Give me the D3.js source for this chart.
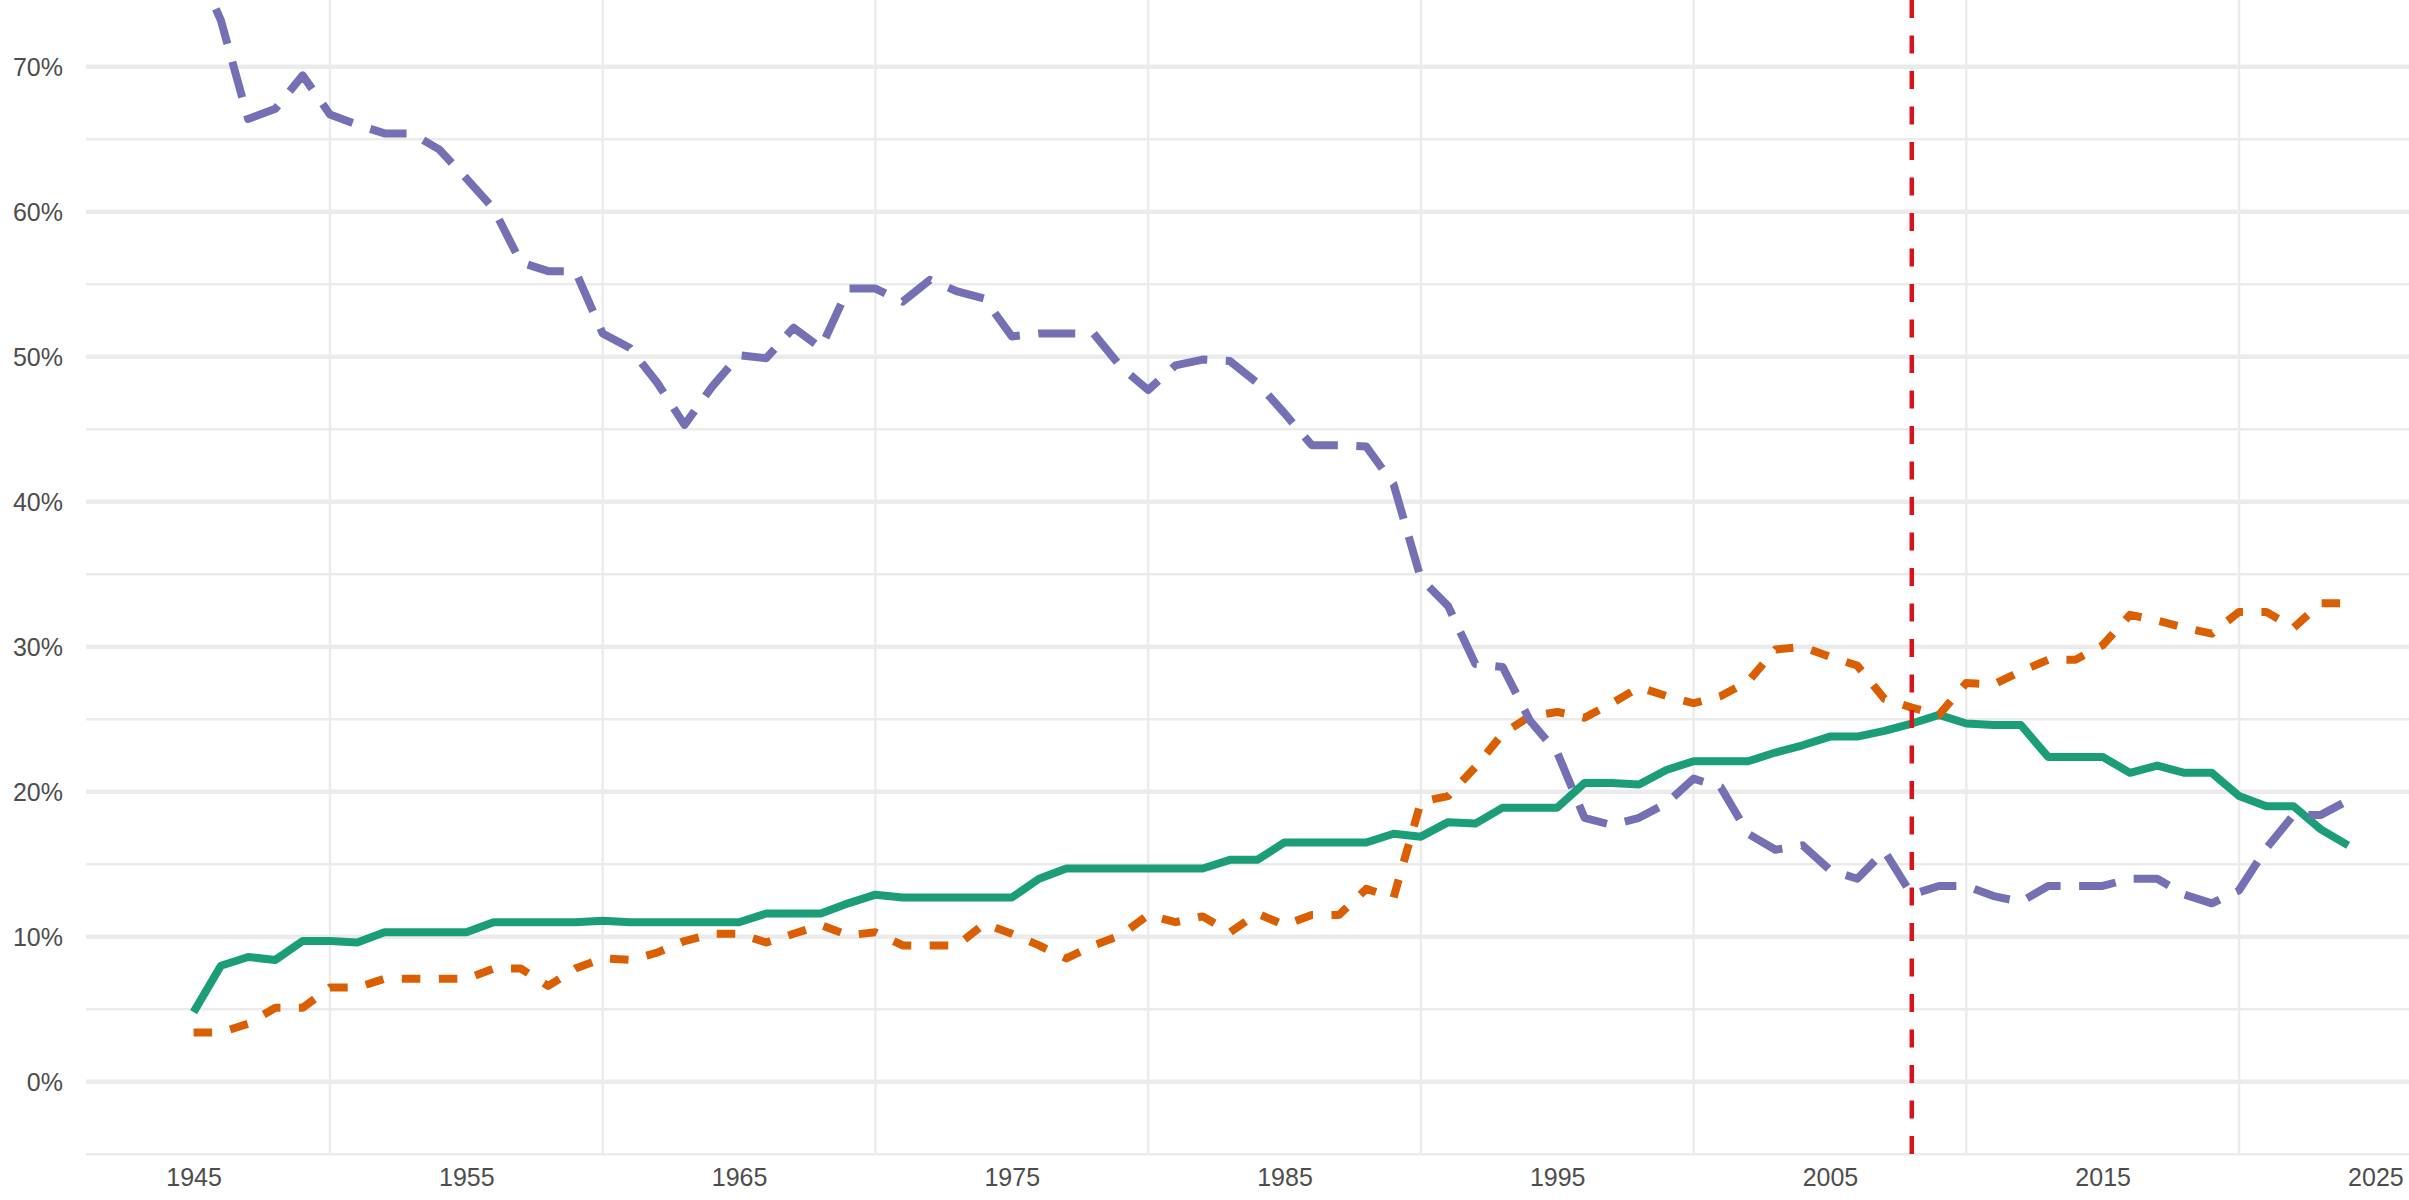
<!DOCTYPE html>
<html>
<head>
<meta charset="utf-8">
<script src="https://cdn.jsdelivr.net/npm/d3@7/dist/d3.min.js"></script>
<style>
  html, body { margin: 0; padding: 0; background: #ffffff; }
  svg { display: block; }
</style>
</head>
<body>
<svg id="chart" width="2409" height="1200"></svg>
<script>
// ---- data ----
const years = d3.range(1945, 2025); // 1945..2024

const seriesGreen = [
  4.8, 8.0, 8.6, 8.4, 9.7, 9.7, 9.6, 10.3, 10.3, 10.3,
  10.3, 11.0, 11.0, 11.0, 11.0, 11.1, 11.0, 11.0, 11.0, 11.0,
  11.0, 11.6, 11.6, 11.6, 12.3, 12.9, 12.7, 12.7, 12.7, 12.7,
  12.7, 14.0, 14.7, 14.7, 14.7, 14.7, 14.7, 14.7, 15.3, 15.3,
  16.5, 16.5, 16.5, 16.5, 17.1, 16.9, 17.9, 17.8, 18.9, 18.9,
  18.9, 20.6, 20.6, 20.5, 21.5, 22.1, 22.1, 22.1, 22.7, 23.2,
  23.8, 23.8, 24.2, 24.7, 25.3, 24.7, 24.6, 24.6, 22.4, 22.4,
  22.4, 21.3, 21.8, 21.3, 21.3, 19.7, 19.0, 19.0, 17.4, 16.3
];

const seriesOrange = [
  3.4, 3.4, 4.0, 5.1, 5.1, 6.5, 6.5, 7.1, 7.1, 7.1,
  7.1, 7.8, 7.8, 6.6, 7.8, 8.5, 8.4, 8.9, 9.7, 10.2,
  10.2, 9.6, 10.2, 10.8, 10.1, 10.3, 9.4, 9.4, 9.4, 10.9,
  10.2, 9.4, 8.5, 9.4, 10.1, 11.5, 11.0, 11.4, 10.3, 11.6,
  10.8, 11.5, 11.5, 13.3, 12.7, 19.3, 19.7, 21.7, 24.0, 25.2,
  25.5, 25.1, 26.1, 27.2, 26.6, 26.1, 26.6, 27.6, 29.8, 30.0,
  29.3, 28.7, 26.4, 25.8, 25.3, 27.5, 27.4, 28.3, 29.1, 29.1,
  30.1, 32.2, 31.8, 31.3, 30.9, 32.4, 32.4, 31.3, 33.0, 33.0
];

const seriesPurple = [
  77.5, 73.2, 66.4, 67.1, 69.4, 66.7, 66.0, 65.4, 65.4, 64.3,
  62.3, 60.2, 56.5, 55.9, 55.9, 51.6, 50.6, 48.2, 45.3, 47.9,
  50.1, 49.9, 52.0, 50.6, 54.7, 54.7, 53.8, 55.3, 54.5, 54.0,
  51.4, 51.6, 51.6, 51.6, 49.3, 47.7, 49.4, 49.8, 49.7, 48.2,
  46.1, 43.9, 43.9, 43.8, 41.2, 34.7, 32.8, 28.8, 28.6, 24.9,
  22.7, 18.2, 17.7, 18.2, 19.2, 20.9, 20.3, 17.1, 16.0, 16.3,
  14.6, 14.0, 15.9, 12.9, 13.5, 13.5, 12.8, 12.4, 13.5, 13.5,
  13.5, 14.0, 14.0, 12.9, 12.3, 13.2, 16.1, 18.4, 18.4, 19.4
];

const markerYear = 2008;
const xTickLabels = [1945, 1955, 1965, 1975, 1985, 1995, 2005, 2015, 2025];
const xMinorGrid = [1950, 1960, 1970, 1980, 1990, 2000, 2010, 2020];
const yMajorTicks = [0, 10, 20, 30, 40, 50, 60, 70];
const yMinorGrid = [-5, 5, 15, 25, 35, 45, 55, 65];

// ---- layout ----
const W = 2409, H = 1200;
const panel = { left: 86, right: W, top: 0, bottom: 1154 };

const x = d3.scaleLinear().domain([1945, 2025]).range([193.6, 2375.4]);
const y = d3.scaleLinear().domain([0, 70]).range([1081.7, 66.7]);

const svg = d3.select("#chart");

svg.append("defs").append("clipPath").attr("id", "panelClip")
  .append("rect")
  .attr("x", panel.left).attr("y", panel.top)
  .attr("width", panel.right - panel.left)
  .attr("height", panel.bottom - panel.top);

const grid = svg.append("g");

grid.selectAll("line.ymin").data(yMinorGrid).join("line")
  .attr("x1", panel.left).attr("x2", panel.right)
  .attr("y1", d => y(d)).attr("y2", d => y(d))
  .attr("stroke", "#ebebeb").attr("stroke-width", 2.4);

grid.selectAll("line.xmin").data(xMinorGrid).join("line")
  .attr("x1", d => x(d)).attr("x2", d => x(d))
  .attr("y1", panel.top).attr("y2", panel.bottom)
  .attr("stroke", "#ebebeb").attr("stroke-width", 2.4);

grid.selectAll("line.ymaj").data(yMajorTicks).join("line")
  .attr("x1", panel.left).attr("x2", panel.right)
  .attr("y1", d => y(d)).attr("y2", d => y(d))
  .attr("stroke", "#ebebeb").attr("stroke-width", 4.6);

// ---- axes (text only) ----
const yAxis = d3.axisLeft(y).tickValues(yMajorTicks).tickFormat(d => d + "%").tickSize(0).tickPadding(0);
const gy = svg.append("g").attr("transform", "translate(63,0)").call(yAxis);
gy.select(".domain").remove();
gy.selectAll("text")
  .attr("font-family", "'Liberation Sans', Arial, sans-serif")
  .attr("font-size", 25).attr("fill", "#4d4d4d")
  .attr("dy", "0.35em").attr("x", 0);

const xAxis = d3.axisBottom(x).tickValues(xTickLabels).tickFormat(d3.format("d")).tickSize(0).tickPadding(0);
const gx = svg.append("g").attr("transform", "translate(0,1168)").call(xAxis);
gx.select(".domain").remove();
gx.selectAll("text")
  .attr("font-family", "'Liberation Sans', Arial, sans-serif")
  .attr("font-size", 25).attr("fill", "#4d4d4d")
  .attr("dy", "0.71em").attr("y", 0);

// ---- lines ----
const plot = svg.append("g").attr("clip-path", "url(#panelClip)");

const line = d3.line().x(d => x(d[0])).y(d => y(d[1]));

const series = [
  { values: seriesGreen,  color: "#1b9e77", dash: null },
  { values: seriesOrange, color: "#d95f02", dash: "18.5,18.5" },
  { values: seriesPurple, color: "#7570b3", dash: "37,18.5" }
];

series.forEach(s => {
  plot.append("path")
    .datum(years.map((yr, i) => [yr, s.values[i]]))
    .attr("d", line)
    .attr("fill", "none")
    .attr("stroke", s.color)
    .attr("stroke-width", 8)
    .attr("stroke-linejoin", "round")
    .attr("stroke-linecap", "butt")
    .attr("stroke-dasharray", s.dash);
});

// vertical reference line
plot.append("line")
  .attr("x1", x(markerYear)).attr("x2", x(markerYear))
  .attr("y1", panel.top).attr("y2", panel.bottom)
  .attr("stroke", "#d7141c").attr("stroke-width", 4.5)
  .attr("stroke-dasharray", "18,17.5");
</script>
</body>
</html>
